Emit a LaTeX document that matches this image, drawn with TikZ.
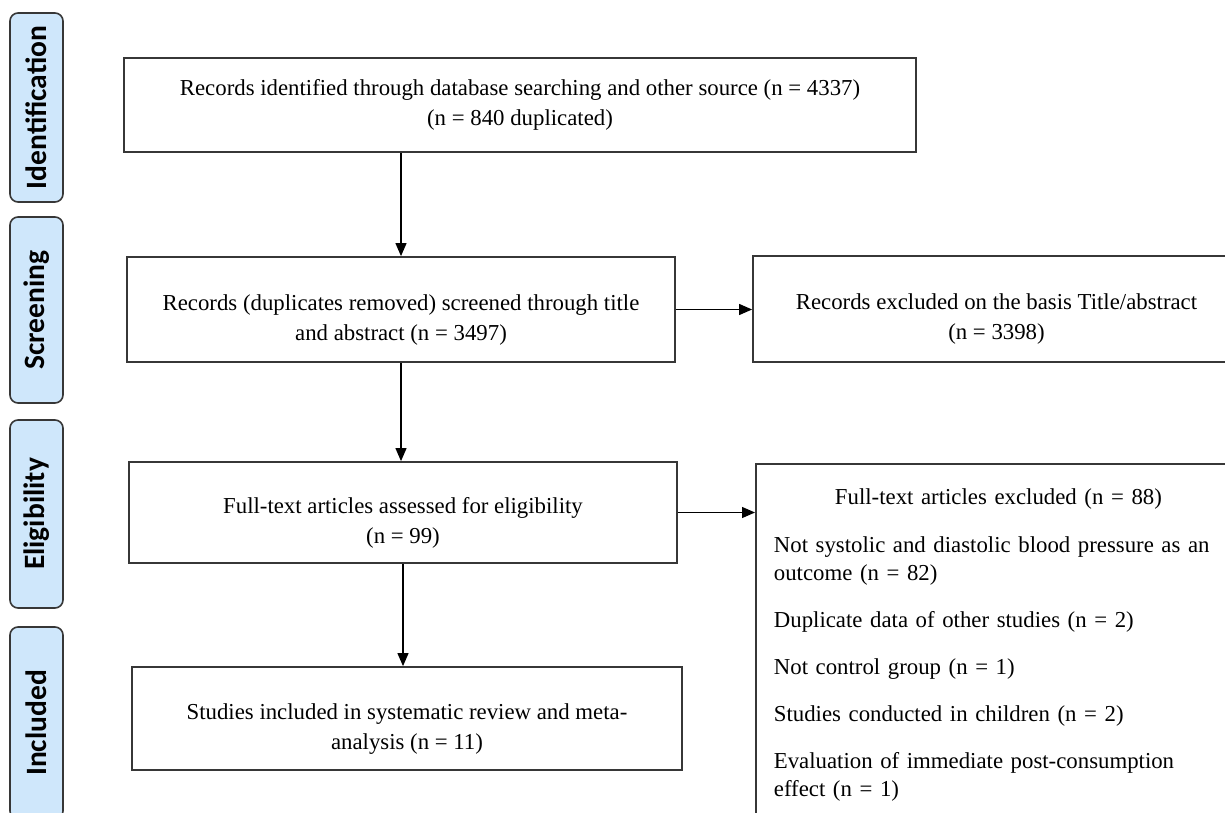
\documentclass[tikz,border=0pt]{standalone}
\usepackage{fontspec}
\setmainfont{Liberation Serif}
\newfontfamily\phasefont{Carlito}
\usetikzlibrary{arrows.meta}
\definecolor{phaseblue}{RGB}{207,231,251}
\definecolor{boxgray}{RGB}{55,55,55}
\newcommand{\dropline}{\rule{0pt}{36pt}}

\begin{document}
\begin{tikzpicture}[x=1pt, y=-1pt,
	box/.style={draw=boxgray, line width=1.8pt, align=center, inner sep=0pt,
		font=\fontsize{22.8}{30}\selectfont},
	phase/.style={draw=boxgray, line width=1.6pt, fill=phaseblue, rounded corners=8pt,
		rotate=90, minimum height=53pt, inner sep=0pt,
		font=\phasefont\bfseries\fontsize{29.5}{32}\selectfont},
	arr/.style={line width=1.2pt, -{Triangle[length=13pt,width=11pt]}}]
	\useasboundingbox (0,0) rectangle (1225,813);

	% phase labels on the left
	\node[phase, minimum width=189pt] (ident) at (36.5,107.5) {Identification};
	\node[phase, minimum width=186pt] (screen) at (36.5,310) {Screening};
	\node[phase, minimum width=188pt] (elig) at (36.5,514) {Eligibility};
	\node[phase, minimum width=192pt] (incl) at (36.5,723) {Included};

	% main flow
	\node[box, minimum width=792pt, minimum height=94pt] (ident box) at (520,105)
		{Records identified through database searching and other source (n = 4337)\\(n = 840 duplicated)};
	\node[box, minimum width=548pt, minimum height=105pt] (screen box) at (401,309.5)
		{\dropline Records (duplicates removed) screened through title\\and abstract (n = 3497)};
	\node[box, minimum width=548pt, minimum height=101pt] (elig box) at (403,512.5)
		{\dropline Full-text articles assessed for eligibility\\(n = 99)};
	\node[box, minimum width=550pt, minimum height=103pt] (incl box) at (407,718.5)
		{\dropline Studies included in systematic review and meta-\\analysis (n = 11)};

	% exclusions on the right
	\node[box, minimum width=487pt, minimum height=106pt] (screen excl) at (996.5,309)
		{\dropline Records excluded on the basis Title/abstract\\(n = 3398)};
	\node[box, anchor=north west, align=left, text width=449pt, inner xsep=18pt, inner ysep=25pt,
		font=\fontsize{22.8}{28}\selectfont] (elig excl) at (755,463)
		{\makebox[449pt][c]{Full-text articles excluded (n = 88)}\\[20pt]
		Not systolic and diastolic blood pressure as an\\outcome (n = 82)\\[19pt]
		Duplicate data of other studies (n = 2)\\[19pt]
		Not control group (n = 1)\\[19pt]
		Studies conducted in children (n = 2)\\[19pt]
		Evaluation of immediate post-consumption\\effect (n = 1)};

	\draw[arr] (screen box.north |- ident box.south) -- (screen box.north);
	\draw[arr] (screen box.south) -- (screen box.south |- elig box.north);
	\draw[arr] (elig box.south) -- (elig box.south |- incl box.north);
	\draw[arr] (screen box.east) -- (screen box.east -| screen excl.west);
	\draw[arr] (elig box.east) -- (elig box.east -| elig excl.west);

\end{tikzpicture}
\end{document}
